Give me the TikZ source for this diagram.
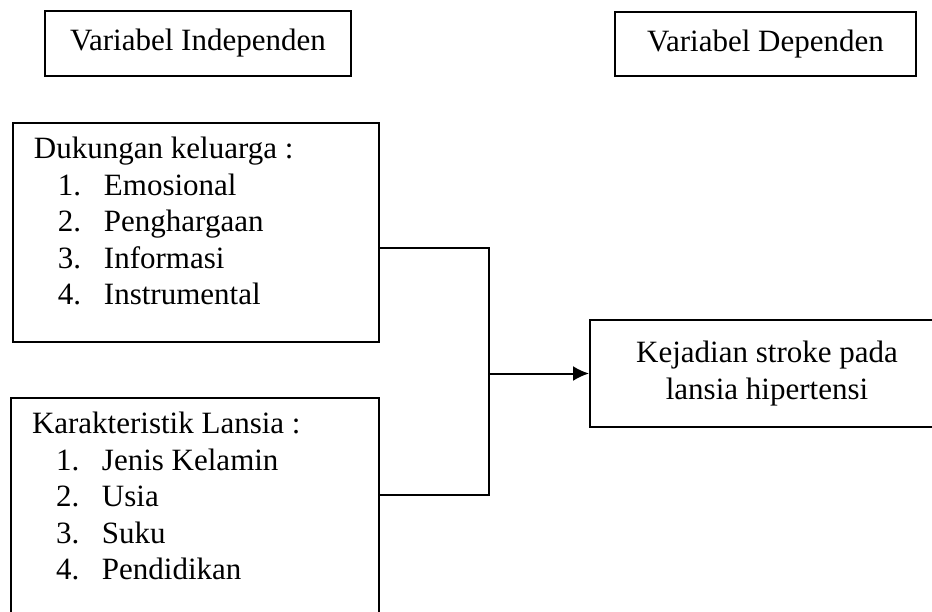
\documentclass[tikz,border=0pt]{standalone}
\usepackage{fontspec}
\setmainfont{Liberation Serif}
\usetikzlibrary{arrows.meta}

\newcommand{\butir}[2]{\hspace*{24pt}\makebox[46pt][l]{#1}#2}

\begin{document}
\begin{tikzpicture}[
    x=1pt, y=-1pt,
    every node/.style={font=\fontsize{31pt}{36.5pt}\selectfont},
    box/.style={draw, line width=2pt, align=center},
    listbox/.style={draw, line width=2pt, anchor=north west, align=flush left, inner xsep=21pt, inner ysep=14pt},
    garis/.style={line width=2pt},
    panah/.style={line width=2pt, -{Latex[length=16pt,width=15pt]}}
]
\path[use as bounding box, clip] (0,0) rectangle (932,611);

% 上方标题
\node[box, minimum width=306pt, minimum height=65pt] (indep) at (198,43.5) {Variabel Independen};
\node[box, minimum width=301pt, minimum height=64pt] (dep) at (765.5,44) {Variabel Dependen};

% 左侧变量
\node[listbox, text width=324pt, text depth=169pt] (dukungan) at (12,122) {Dukungan keluarga :\\
    \butir{1.}{Emosional}\\
    \butir{2.}{Penghargaan}\\
    \butir{3.}{Informasi}\\
    \butir{4.}{Instrumental}};
\node[listbox, text width=326pt, text depth=260pt] (karakteristik) at (10,397) {Karakteristik Lansia :\\
    \butir{1.}{Jenis Kelamin}\\
    \butir{2.}{Usia}\\
    \butir{3.}{Suku}\\
    \butir{4.}{Pendidikan}};

% 右侧结果
\node[box, minimum width=354pt, minimum height=107pt] (kejadian) at (767,373.5) {Kejadian stroke pada\\lansia hipertensi};

% 连接线
\coordinate (sambung) at (489,373.5);
\draw[garis] ([yshift=-16pt]dukungan.east) -| (sambung) |- ([yshift=-98pt]karakteristik.north east);
\draw[panah] (sambung) -- (kejadian.west);

\end{tikzpicture}
\end{document}
